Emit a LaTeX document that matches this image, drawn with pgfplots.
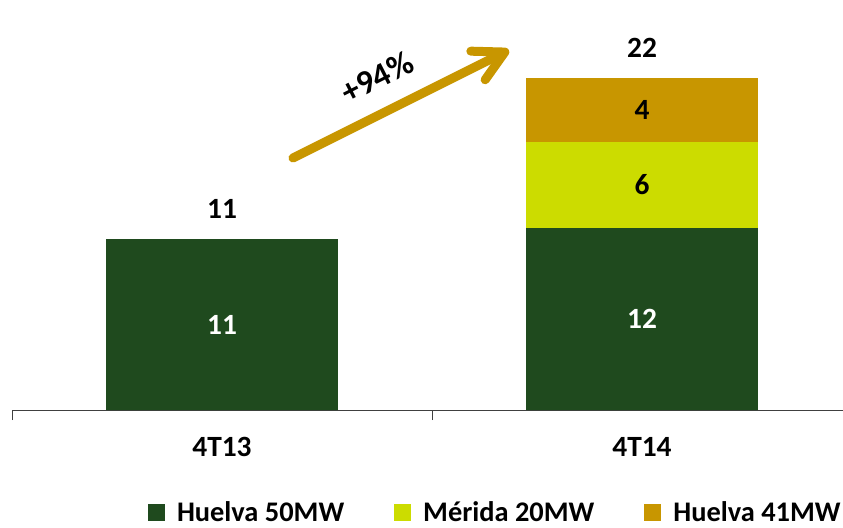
\documentclass[border=0pt]{standalone}
\usepackage{pgfplots}
\pgfplotsset{compat=1.18}
\usepackage{fontspec}
\setmainfont{Carlito}
\usetikzlibrary{arrows.meta}
\definecolor{dgreen}{RGB}{31,74,30}
\definecolor{lgreen}{RGB}{204,220,0}
\definecolor{gold}{RGB}{200,150,0}
\newcommand{\bigf}{\fontsize{28.5}{34}\selectfont\bfseries}
\newcommand{\labf}{\fontsize{29.5}{35}\selectfont\bfseries}
\begin{document}
\begin{tikzpicture}
\begin{axis}[
  scale only axis, width=831bp, height=410bp,
  xmin=-0.5, xmax=1.4786, ymin=0, ymax=26.974,
  ybar stacked, bar width=0.552,
  axis x line*=bottom, axis y line=none,
  x axis line style={-, color=black!75, line width=0.8bp},
  xtick={0,1}, xticklabels={4T13,4T14},
  major tick length=0pt,
  xticklabel style={font=\labf, anchor=center, yshift=-37bp},
  extra x ticks={-0.5,0.5}, extra x tick labels={},
  extra x tick style={major tick length=10bp, tick align=outside, tick style={black!75, line width=0.8bp}},
  ytick=\empty,
  clip=false,
  legend columns=3,
  legend image code/.code={\draw[#1,draw=none] (0bp,-8.5bp) rectangle (17bp,8.5bp);},
  legend style={at={(axis description cs:0.1637,-0.249)}, anchor=west, draw=none,
    inner sep=0pt, outer sep=0pt, font=\bigf,
    nodes={inner sep=0pt},
    /tikz/every odd column/.append style={column sep=12bp},
    /tikz/every even column/.append style={column sep=50bp}},
  legend cell align=left,
]
\addplot[fill=dgreen, draw=none] coordinates {(0,11.25) (1,11.97)};
\addplot[fill=lgreen, draw=none] coordinates {(0,0) (1,5.66)};
\addplot[fill=gold, draw=none] coordinates {(0,0) (1,4.21)};
\legend{Huelva 50MW, Mérida 20MW, Huelva 41MW}
\coordinate (l1) at (axis cs:0,5.625);
\coordinate (l2) at (axis cs:0,13.22);
\coordinate (l3) at (axis cs:1,5.985);
\coordinate (l4) at (axis cs:1,14.8);
\coordinate (l5) at (axis cs:1,19.73);
\coordinate (l6) at (axis cs:1,23.8);
\coordinate (a1) at (axis cs:0.169,16.58);
\coordinate (a2) at (axis cs:0.683,23.68);
\coordinate (t1) at (axis cs:0.369,21.9);
\end{axis}
\node[font=\labf, white] at (l1) {11};
\node[font=\labf] at (l2) {11};
\node[font=\labf, white] at (l3) {12};
\node[font=\labf] at (l4) {6};
\node[font=\labf] at (l5) {4};
\node[font=\labf] at (l6) {22};
\draw[gold, line width=9bp, line cap=round, -{Straight Barb[length=30bp,width=32bp,round]}] (a1) -- (a2);
\node[font=\fontsize{34}{40}\selectfont\bfseries, rotate=27] at (t1) {+94\%};
\pgfresetboundingbox
\path (-12bp,-118bp) rectangle (831bp,410bp);
\end{tikzpicture}
\end{document}
